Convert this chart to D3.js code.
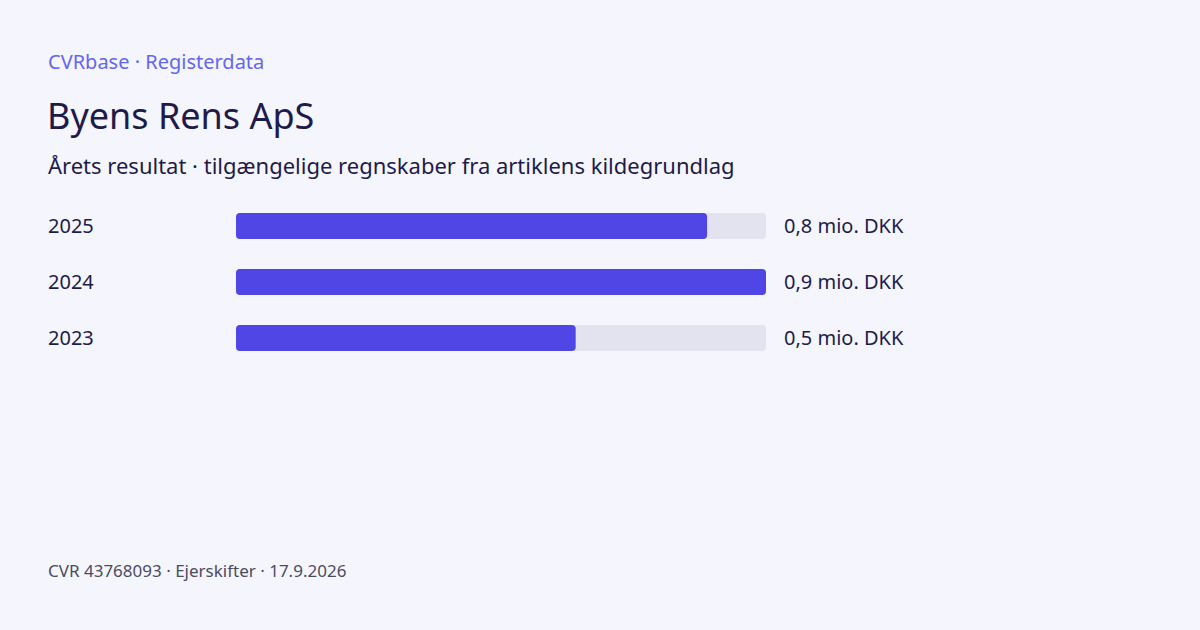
<!DOCTYPE html>
<html>
<head>
<meta charset="utf-8">
<script src="https://cdn.jsdelivr.net/npm/d3@7"></script>
<style>
  html, body { margin: 0; padding: 0; background: #f5f5fe; }
  svg { display: block; font-family: "Noto Sans", "Open Sans", sans-serif; }
</style>
</head>
<body>
<svg id="chart" width="1200" height="630"></svg>
<script>
// data (values in mio. DKK)
const years = ["2025", "2024", "2023"];
const results = [0.76, 0.855, 0.548];
const valueLabels = ["0,8 mio. DKK", "0,9 mio. DKK", "0,5 mio. DKK"];

const kicker = "CVRbase · Registerdata";
const title = "Byens Rens ApS";
const subtitle = "Årets resultat · tilgængelige regnskaber fra artiklens kildegrundlag";
const footer = "CVR 43768093 · Ejerskifter · 17.9.2026";

const svg = d3.select("#chart");

svg.append("rect")
    .attr("width", 1200)
    .attr("height", 630)
    .attr("fill", "#f5f5fe");

svg.append("text")
    .attr("x", 48).attr("y", 69)
    .attr("font-size", 20)
    .attr("fill", "#6366f1")
    .text(kicker);

svg.append("text")
    .attr("x", 47).attr("y", 129)
    .attr("font-size", 36)
    .attr("fill", "#1e1b4b")
    .text(title);

svg.append("text")
    .attr("x", 48).attr("y", 174)
    .attr("font-size", 22)
    .attr("fill", "#1e1b4b")
    .text(subtitle);

svg.append("text")
    .attr("x", 48).attr("y", 577)
    .attr("font-size", 17)
    .attr("fill", "#4b4b5e")
    .text(footer);

// scales
const x = d3.scaleLinear()
    .domain([0, d3.max(results)])
    .range([0, 530]);

const y = d3.scaleBand()
    .domain(years)
    .range([198, 366])
    .paddingInner(0.5357)
    .paddingOuter(0.2679);

const barLeft = 236;

const rows = svg.append("g")
    .selectAll("g")
    .data(years.map(function (yr, i) {
        return { year: yr, value: results[i], label: valueLabels[i] };
    }))
    .enter()
    .append("g")
        .attr("transform", function (d) {
            return "translate(0," + y(d.year) + ")";
        });

// track
rows.append("rect")
    .attr("x", barLeft)
    .attr("width", x.range()[1])
    .attr("height", y.bandwidth())
    .attr("rx", 4)
    .attr("fill", "#e3e3f0");

// bar
rows.append("rect")
    .attr("x", barLeft)
    .attr("width", function (d) { return x(d.value); })
    .attr("height", y.bandwidth())
    .attr("rx", 4)
    .attr("fill", "#4f46e5");

// year label
rows.append("text")
    .attr("x", 48)
    .attr("y", y.bandwidth() / 2)
    .attr("dy", "0.35em")
    .attr("font-size", 20)
    .attr("fill", "#1e1b4b")
    .text(function (d) { return d.year; });

// value label
rows.append("text")
    .attr("x", barLeft + x.range()[1] + 18)
    .attr("y", y.bandwidth() / 2)
    .attr("dy", "0.35em")
    .attr("font-size", 20)
    .attr("fill", "#1e1b4b")
    .text(function (d) { return d.label; });
</script>
</body>
</html>
